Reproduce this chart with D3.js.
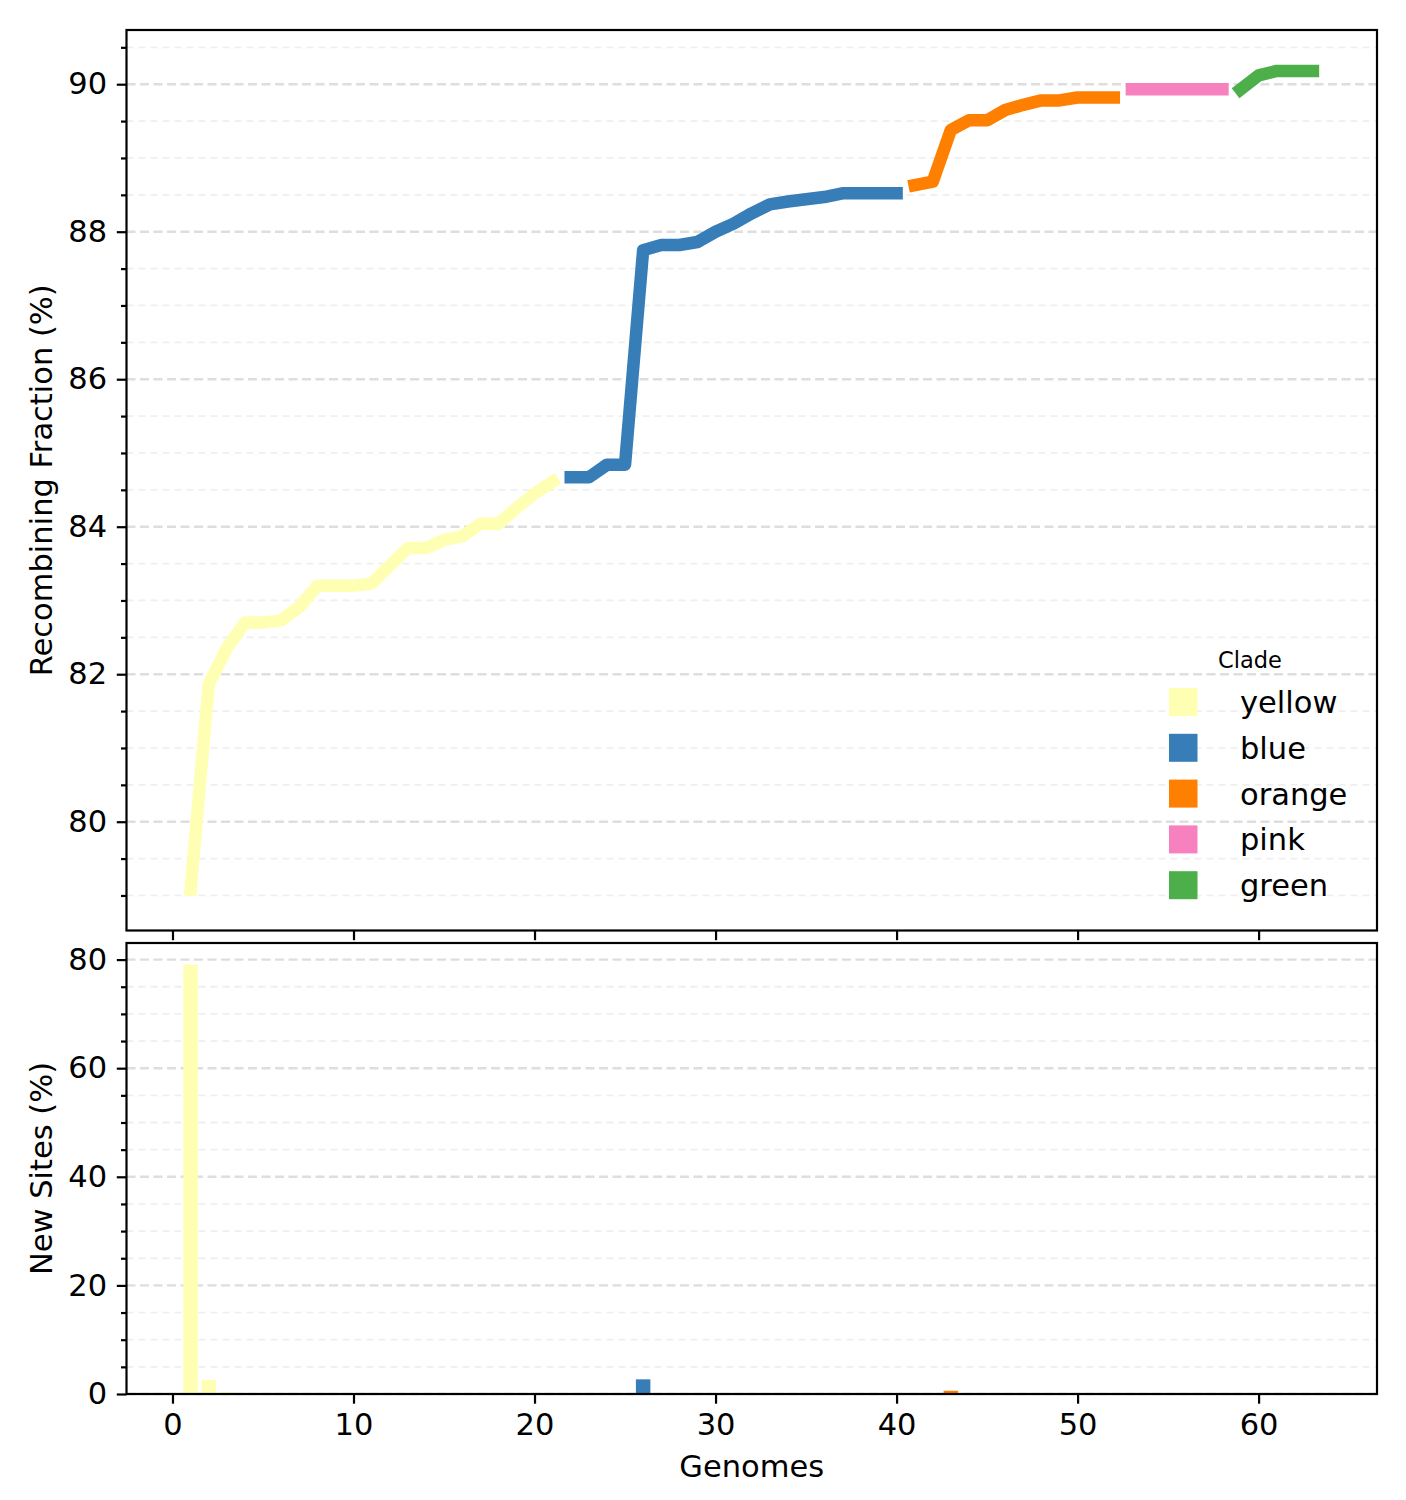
<!DOCTYPE html>
<html>
<head>
<meta charset="utf-8">
<script src="https://cdn.jsdelivr.net/npm/d3@7"></script>
<style>
  body { margin: 0; background: #fff; }
  svg text { font-family: "DejaVu Sans", sans-serif; fill: #000; }
</style>
</head>
<body>
<div id="chart"></div>
<script>
// clades, in the order they appear along the x axis
const clades = ['yellow', 'blue', 'orange', 'pink', 'green'];
const cladeColors = ['#ffffb3', '#377eb8', '#ff7f00', '#f781bf', '#4daf4a'];
const cladeSizes = [21, 19, 12, 6, 5];

// cumulative recombining fraction (%) for genomes 1..63
const recombFraction = [
  79.08, 81.86, 82.35, 82.70, 82.70, 82.73, 82.91, 83.20, 83.20, 83.20,
  83.23, 83.47, 83.71, 83.71, 83.82, 83.87, 84.04, 84.04, 84.25, 84.45,
  84.61,
  84.67, 84.67, 84.84, 84.84, 87.75, 87.82, 87.82, 87.86, 88.00, 88.11,
  88.25, 88.37, 88.41, 88.44, 88.47, 88.52, 88.52, 88.52, 88.52,
  88.63, 88.68, 89.38, 89.51, 89.51, 89.65, 89.72, 89.78, 89.78, 89.82,
  89.82, 89.82,
  89.93, 89.93, 89.93, 89.93, 89.93, 89.93,
  89.93, 90.12, 90.18, 90.18, 90.18
];

// new sites (%) added by each genome
const newSites = [
  79.1, 2.6, 0.35, 0.15, 0, 0, 0, 0.08, 0, 0,
  0, 0.08, 0, 0, 0, 0, 0, 0, 0, 0,
  0,
  0, 0, 0, 0, 2.7, 0, 0, 0, 0, 0,
  0, 0, 0, 0, 0, 0, 0, 0, 0,
  0, 0, 0.6, 0, 0, 0, 0, 0, 0, 0,
  0, 0,
  0, 0, 0, 0, 0, 0,
  0, 0, 0, 0, 0
];

const xTicks = [0, 10, 20, 30, 40, 50, 60];
const topTicks = [80, 82, 84, 86, 88, 90];
const bottomTicks = [0, 20, 40, 60, 80];

// build rows: genome number + clade
const rows = [];
let g = 1;
cladeSizes.forEach((n, ci) => {
  for (let i = 0; i < n; i++) {
    rows.push({ genome: g, clade: clades[ci], frac: recombFraction[g - 1], sites: newSites[g - 1] });
    g++;
  }
});

const width = 1406, height = 1500;
const left = 126.5, right = 1377;
const topPanel = { y0: 30, y1: 930.5 };
const botPanel = { y0: 943, y1: 1394 };
const fontSize = 30.5;

const color = d3.scaleOrdinal().domain(clades).range(cladeColors);

const svg = d3.select('#chart')
  .append('svg')
  .attr('width', width)
  .attr('height', height);

// shared x scale, matplotlib-like 5% margins around the bars
const barWidth = 0.8;
const xMin = d3.min(rows, d => d.genome) - barWidth / 2;
const xMax = d3.max(rows, d => d.genome) + barWidth / 2;
const xPad = (xMax - xMin) * 0.05;
const x = d3.scaleLinear().domain([xMin - xPad, xMax + xPad]).range([left, right]);

// top y scale
const [fMin, fMax] = d3.extent(rows, d => d.frac);
const fPad = (fMax - fMin) * 0.05;
const yTop = d3.scaleLinear().domain([fMin - fPad, fMax + fPad]).range([topPanel.y1, topPanel.y0]);

// bottom y scale
const sMax = d3.max(rows, d => d.sites);
const yBot = d3.scaleLinear().domain([0, sMax * 1.05]).range([botPanel.y1, botPanel.y0]);

function grid(scale, majors, minorStep) {
  const [d0, d1] = scale.domain();
  const minors = d3.range(Math.ceil(d0 / minorStep) * minorStep, d1, minorStep)
    .filter(v => !majors.some(m => Math.abs(m - v) < 1e-6));
  const gg = svg.append('g');
  gg.selectAll('line.minor')
    .data(minors)
    .join('line')
    .attr('x1', left).attr('x2', right)
    .attr('y1', d => scale(d)).attr('y2', d => scale(d))
    .attr('stroke', '#efefef')
    .attr('stroke-width', 1.8)
    .attr('stroke-dasharray', '7,5');
  gg.selectAll('line.major')
    .data(majors.filter(v => v >= d0 && v <= d1))
    .join('line')
    .attr('x1', left).attr('x2', right)
    .attr('y1', d => scale(d)).attr('y2', d => scale(d))
    .attr('stroke', '#dedede')
    .attr('stroke-width', 2.4)
    .attr('stroke-dasharray', '9,4.5');
  return minors;
}

function axes(scale, panel, majors, minors, showXLabels) {
  // y axis with major + minor ticks
  const yAxis = d3.axisLeft(scale).tickValues(majors).tickSize(9.7).tickPadding(9.7).tickFormat(d3.format('d'));
  const ya = svg.append('g').attr('transform', `translate(${left},0)`).call(yAxis);
  const yMinor = d3.axisLeft(scale).tickValues(minors).tickSize(5.5).tickFormat('');
  const ym = svg.append('g').attr('transform', `translate(${left},0)`).call(yMinor);

  const xAxis = d3.axisBottom(x).tickValues(xTicks).tickSize(9.7).tickPadding(9.7)
    .tickFormat(showXLabels ? d3.format('d') : '');
  const xa = svg.append('g').attr('transform', `translate(0,${panel.y1})`).call(xAxis);

  [ya, ym, xa].forEach(a => {
    a.select('.domain').remove();
    a.selectAll('line').attr('stroke', '#000').attr('stroke-width', 2.2);
    a.selectAll('text').attr('font-size', fontSize).attr('fill', '#000')
      .style('font-family', '"DejaVu Sans", sans-serif');
  });

  // frame
  svg.append('rect')
    .attr('x', left).attr('y', panel.y0)
    .attr('width', right - left).attr('height', panel.y1 - panel.y0)
    .attr('fill', 'none')
    .attr('stroke', '#000')
    .attr('stroke-width', 2.2);
}

// ---- top panel ----
const topMinors = grid(yTop, topTicks, 0.5);

const clip = svg.append('clipPath').attr('id', 'clipTop')
  .append('rect').attr('x', left).attr('y', topPanel.y0)
  .attr('width', right - left).attr('height', topPanel.y1 - topPanel.y0);

const line = d3.line().x(d => x(d.genome)).y(d => yTop(d.frac));

svg.append('g')
  .attr('clip-path', 'url(#clipTop)')
  .selectAll('path')
  .data(d3.groups(rows, d => d.clade))
  .join('path')
  .attr('d', d => line(d[1]))
  .attr('fill', 'none')
  .attr('stroke', d => color(d[0]))
  .attr('stroke-width', 12.5)
  .attr('stroke-linecap', 'square')
  .attr('stroke-linejoin', 'round');

axes(yTop, topPanel, topTicks, topMinors, false);

svg.append('text')
  .attr('transform', `translate(52,${(topPanel.y0 + topPanel.y1) / 2}) rotate(-90)`)
  .attr('text-anchor', 'middle')
  .attr('font-size', fontSize)
  .text('Recombining Fraction (%)');

// legend
const legend = svg.append('g').attr('transform', 'translate(1169,0)');
legend.append('text')
  .attr('x', 81).attr('y', 668)
  .attr('text-anchor', 'middle')
  .attr('font-size', 22.5)
  .text('Clade');
const item = legend.selectAll('g.item')
  .data(clades)
  .join('g')
  .attr('transform', (d, i) => `translate(0,${702 + i * 45.8})`);
item.append('rect')
  .attr('x', 0).attr('y', -14)
  .attr('width', 28.5).attr('height', 28)
  .attr('fill', d => color(d));
item.append('text')
  .attr('x', 71).attr('y', 0)
  .attr('dy', '0.36em')
  .attr('font-size', fontSize)
  .text(d => d);

// ---- bottom panel ----
const botMinors = grid(yBot, bottomTicks, 5);

svg.append('g')
  .selectAll('rect')
  .data(rows)
  .join('rect')
  .attr('x', d => x(d.genome - barWidth / 2))
  .attr('width', d => x(d.genome + barWidth / 2) - x(d.genome - barWidth / 2))
  .attr('y', d => yBot(d.sites))
  .attr('height', d => yBot(0) - yBot(d.sites))
  .attr('fill', d => color(d.clade));

axes(yBot, botPanel, bottomTicks, botMinors, true);

svg.append('text')
  .attr('transform', `translate(52,${(botPanel.y0 + botPanel.y1) / 2}) rotate(-90)`)
  .attr('text-anchor', 'middle')
  .attr('font-size', fontSize)
  .text('New Sites (%)');

svg.append('text')
  .attr('x', (left + right) / 2)
  .attr('y', 1477)
  .attr('text-anchor', 'middle')
  .attr('font-size', fontSize)
  .text('Genomes');
</script>
</body>
</html>
